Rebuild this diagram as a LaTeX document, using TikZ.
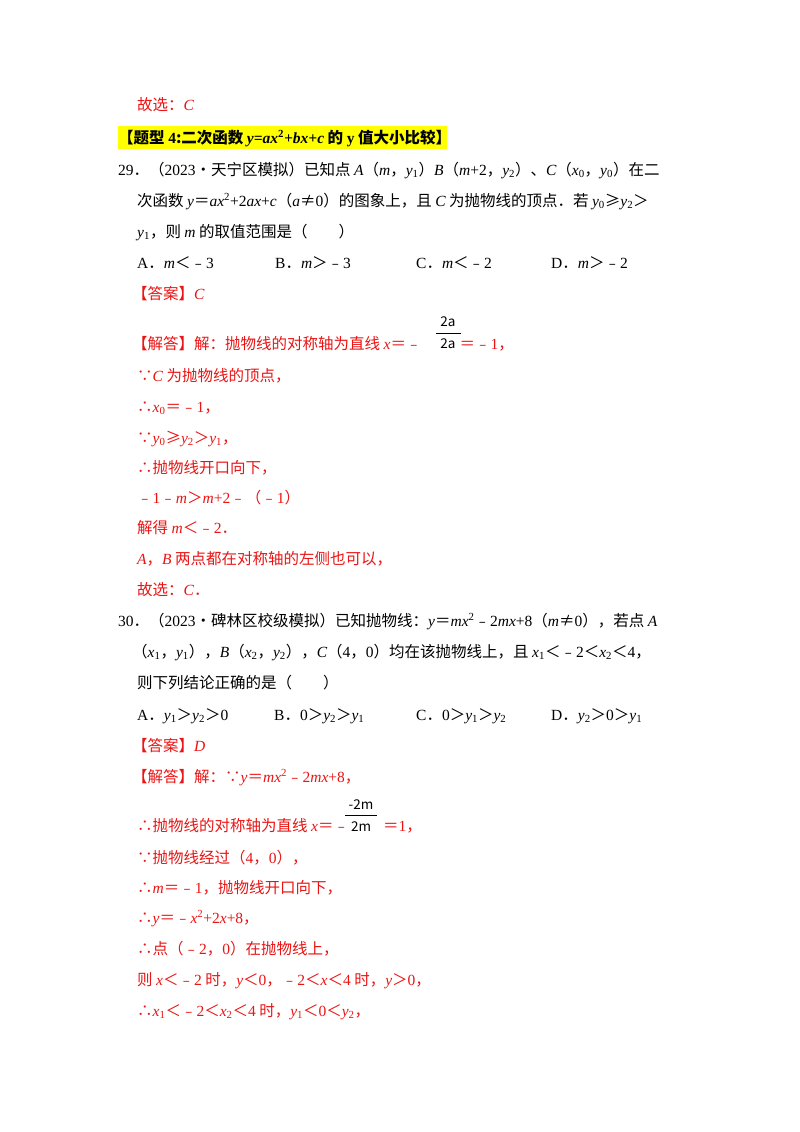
\documentclass[tikz,border=0pt]{standalone}
\usepackage{fontspec}
\setmainfont{Noto Sans CJK SC}
\newfontfamily\lat{Liberation Serif}
\newcommand\mi[1]{{\lat\itshape #1}}
\newcommand\lr[1]{{\lat #1}}
\newcommand\sbs[1]{\textsubscript{\lat #1}}
\newcommand\sps[1]{\textsuperscript{\lat #1}}
\definecolor{ans}{RGB}{235,20,20}
\definecolor{hl}{RGB}{255,255,0}
\tikzset{ln/.style={anchor=base west,inner sep=0pt,font=\fontsize{15.5}{16}\selectfont},
 rl/.style={ln,text=ans},
 fr/.style={inner sep=0pt,font=\fontsize{13.5}{14}\selectfont,text=black}}
\begin{document}
\begin{tikzpicture}[x=1pt,y=-1pt]
\useasboundingbox[fill=white] (0,0) rectangle (800,1132);
\fill[hl] (118,126) rectangle (447,149);
\node[rl] (l0) at (137,110) {故选：\mi{C}};
\node[ln,font=\bfseries\fontsize{15.5}{16}\selectfont] (h) at (118,143) {【题型 \lr{\bfseries 4}:二次函数 \mi{\bfseries y=ax}\sps{\bfseries 2}\mi{\bfseries +bx+c} 的 \lr{\bfseries y} 值大小比较】};
\node[ln] (q1) at (118,175) {\lr{29}．（\lr{2023}•天宁区模拟）已知点 \mi{A}（\mi{m}，\mi{y}\sbs{1}）\mi{B}（\mi{m}\lr{+2}，\mi{y}\sbs{2}）、\mi{C}（\mi{x}\sbs{0}，\mi{y}\sbs{0}）在二};
\node[ln] (q2) at (137,206) {次函数 \mi{y}＝\mi{ax}\sps{2}\lr{+2}\mi{ax}\lr{+}\mi{c}（\mi{a}≠\lr{0}）的图象上，且 \mi{C} 为抛物线的顶点．若 \mi{y}\sbs{0}≥\mi{y}\sbs{2}＞};
\node[ln] (q3) at (137,237) {\mi{y}\sbs{1}，则 \mi{m} 的取值范围是（\quad\quad ）};
\node[ln] (oa) at (137,268) {\lr{A}．\mi{m}＜﹣\lr{3}};
\node[ln] (ob) at (275,268) {\lr{B}．\mi{m}＞﹣\lr{3}};
\node[ln] (oc) at (416,268) {\lr{C}．\mi{m}＜﹣\lr{2}};
\node[ln] (od) at (551,268) {\lr{D}．\mi{m}＞﹣\lr{2}};
\node[rl] (a1) at (132,299) {【答案】\mi{C}};
\node[rl] (s1) at (132,349) {【解答】解：抛物线的对称轴为直线 \mi{x}＝﹣\hspace{38pt}＝﹣\lr{1}，};
\node[fr] (f1n) at (448,322) {2a};
\node[fr] (f1d) at (448,344) {2a};
\draw[thick] (436,333) -- (461,333);
\node[rl] (s2) at (137,381) {∵\mi{C} 为抛物线的顶点，};
\node[rl] (s3) at (137,412) {∴\mi{x}\sbs{0}＝﹣\lr{1}，};
\node[rl] (s4) at (137,443) {∵\mi{y}\sbs{0}≥\mi{y}\sbs{2}＞\mi{y}\sbs{1}，};
\node[rl] (s5) at (137,473) {∴抛物线开口向下，};
\node[rl] (s6) at (137,503) {﹣\lr{1}﹣\mi{m}＞\mi{m}\lr{+2}﹣（﹣\lr{1}）};
\node[rl] (s7) at (137,533) {解得 \mi{m}＜﹣\lr{2}．};
\node[rl] (s8) at (137,564) {\mi{A}，\mi{B} 两点都在对称轴的左侧也可以，};
\node[rl] (s9) at (137,595) {故选：\mi{C}．};
\node[ln] (p1) at (118,626) {\lr{30}．（\lr{2023}•碑林区校级模拟）已知抛物线：\mi{y}＝\mi{mx}\sps{2}﹣\lr{2}\mi{mx}\lr{+8}（\mi{m}≠\lr{0}），若点 \mi{A}};
\node[ln] (p2) at (132,657) {（\mi{x}\sbs{1}，\mi{y}\sbs{1}），\mi{B}（\mi{x}\sbs{2}，\mi{y}\sbs{2}），\mi{C}（\lr{4}，\lr{0}）均在该抛物线上，且 \mi{x}\sbs{1}＜﹣\lr{2}＜\mi{x}\sbs{2}＜\lr{4}，};
\node[ln] (p3) at (137,688) {则下列结论正确的是（\quad\quad ）};
\node[ln] (pa) at (137,720) {\lr{A}．\mi{y}\sbs{1}＞\mi{y}\sbs{2}＞\lr{0}};
\node[ln] (pb) at (274,720) {\lr{B}．\lr{0}＞\mi{y}\sbs{2}＞\mi{y}\sbs{1}};
\node[ln] (pc) at (416,720) {\lr{C}．\lr{0}＞\mi{y}\sbs{1}＞\mi{y}\sbs{2}};
\node[ln] (pd) at (551,720) {\lr{D}．\mi{y}\sbs{2}＞\lr{0}＞\mi{y}\sbs{1}};
\node[rl] (a2) at (132,751) {【答案】\mi{D}};
\node[rl] (t1) at (132,782) {【解答】解：∵\mi{y}＝\mi{mx}\sps{2}﹣\lr{2}\mi{mx}\lr{+8}，};
\node[rl] (t2) at (137,831) {∴抛物线的对称轴为直线 \mi{x}＝﹣\hspace{34pt}＝\lr{1}，};
\node[fr] (f2n) at (361,805) {-2m};
\node[fr] (f2d) at (361,827) {2m};
\draw[thick] (345,815) -- (377,815);
\node[rl] (t3) at (137,863) {∵抛物线经过（\lr{4}，\lr{0}），};
\node[rl] (t4) at (137,893) {∴\mi{m}＝﹣\lr{1}，抛物线开口向下，};
\node[rl] (t5) at (137,923) {∴\mi{y}＝﹣\mi{x}\sps{2}\lr{+2}\mi{x}\lr{+8}，};
\node[rl] (t6) at (137,954) {∴点（﹣\lr{2}，\lr{0}）在抛物线上，};
\node[rl] (t7) at (137,985) {则 \mi{x}＜﹣\lr{2} 时，\mi{y}＜\lr{0}，﹣\lr{2}＜\mi{x}＜\lr{4} 时，\mi{y}＞\lr{0}，};
\node[rl] (t8) at (137,1016) {∴\mi{x}\sbs{1}＜﹣\lr{2}＜\mi{x}\sbs{2}＜\lr{4} 时，\mi{y}\sbs{1}＜\lr{0}＜\mi{y}\sbs{2}，};
\end{tikzpicture}
\end{document}
